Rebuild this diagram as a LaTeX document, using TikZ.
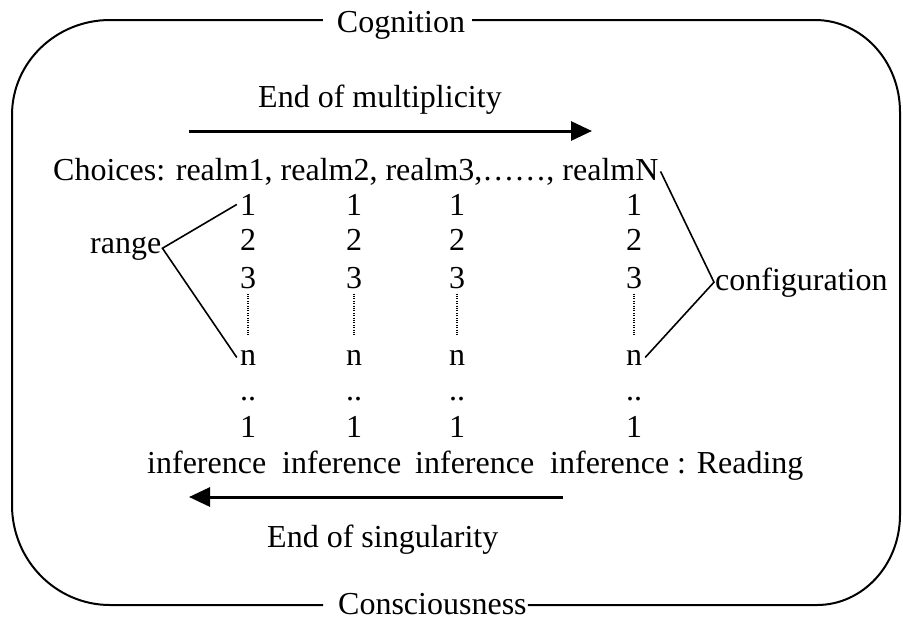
\documentclass[tikz,border=0pt]{standalone}
\usepackage{fontspec}
\setmainfont{Liberation Serif}
\usetikzlibrary{arrows.meta,calc}
\begin{document}
\begin{tikzpicture}[x=1pt,y=-1pt,
  txt/.style={inner sep=0pt, anchor=base west, font=\fontsize{32}{38}\selectfont},
  num/.style={inner sep=3pt, anchor=base, font=\fontsize{32}{38}\selectfont},
  frame/.style={line width=2pt},
  bigarrow/.style={line width=3pt, -{Triangle[length=21pt,width=19pt]}},
  bracket/.style={line width=1.6pt},
  dotline/.style={line width=1.1pt, dash pattern=on 1pt off 1.4pt, shorten <=2pt, shorten >=11pt}]
\useasboundingbox (0,0) rectangle (903,622);

% titles sitting on the frame
\node[txt, anchor=base] (cog) at (401,32) {Cognition};
\node[txt] (cons) at (338,614) {Consciousness};
\coordinate (topline) at (0,20);
\coordinate (botline) at (0,605);
\coordinate (cogL) at ($(cog.west)+(-14,0)$);
\coordinate (cogR) at ($(cog.east)+(7,0)$);
\coordinate (consL) at ($(cons.west)+(-15,0)$);
\coordinate (consR) at ($(cons.east)+(1,0)$);

% rounded frame, interrupted by the two titles
\draw[frame] (cogR |- topline) -- (815,20)
  arc[start angle=90, end angle=0, x radius=85pt, y radius=92pt]
  -- (900,515)
  arc[start angle=0, end angle=-90, x radius=83pt, y radius=90pt]
  -- (consR |- botline);
\draw[frame] (consL |- botline) -- (110,605)
  arc[start angle=270, end angle=180, x radius=98pt, y radius=100pt]
  -- (12,115)
  arc[start angle=180, end angle=90, x radius=98pt, y radius=95pt]
  -- (cogL |- topline);

% upper direction
\node[txt] (mult) at (258,107) {End of multiplicity};
\coordinate (multA) at (189,131);
\coordinate (multB) at (592,131);
\draw[bigarrow] (multA) -- (multB);

\node[txt] (choices) at (53,180) {Choices: realm1, realm2, realm3,……, realmN};

% the columns of values
\foreach \c/\x in {1/248,2/354,3/457,4/634} {
  \node[num] (ra\c) at (\x,215) {1};
  \node[num] (rb\c) at (\x,250) {2};
  \node[num] (rc\c) at (\x,288) {3};
  \node[num] (rn\c) at (\x,365) {n};
  \node[num] (rd\c) at (\x,400) {..};
  \node[num] (re\c) at (\x,437) {1};
  \draw[dotline] (rc\c) -- (rn\c);
}

% range bracket
\node[txt, inner sep=1pt] (range) at (89,253) {range};
\draw[bracket] (ra1.west) -- (range.east) -- (rn1.west);

% configuration bracket
\node[txt, inner sep=1pt] (config) at (714,290) {configuration};
\draw[bracket] ($(choices.east)+(2,0)$) -- (config.west) -- (rn4.east);

% inference row
\node[txt] (inf1) at (147,473) {inference};
\node[txt] (inf2) at (282,473) {inference};
\node[txt] (inf3) at (415,473) {inference};
\node[txt] (inf4) at (550,473) {inference : Reading};

% lower direction
\coordinate (singA) at (563,497);
\coordinate (singB) at (189,497);
\draw[bigarrow] (singA) -- (singB);
\node[txt] (sing) at (267,547) {End of singularity};
\end{tikzpicture}
\end{document}
